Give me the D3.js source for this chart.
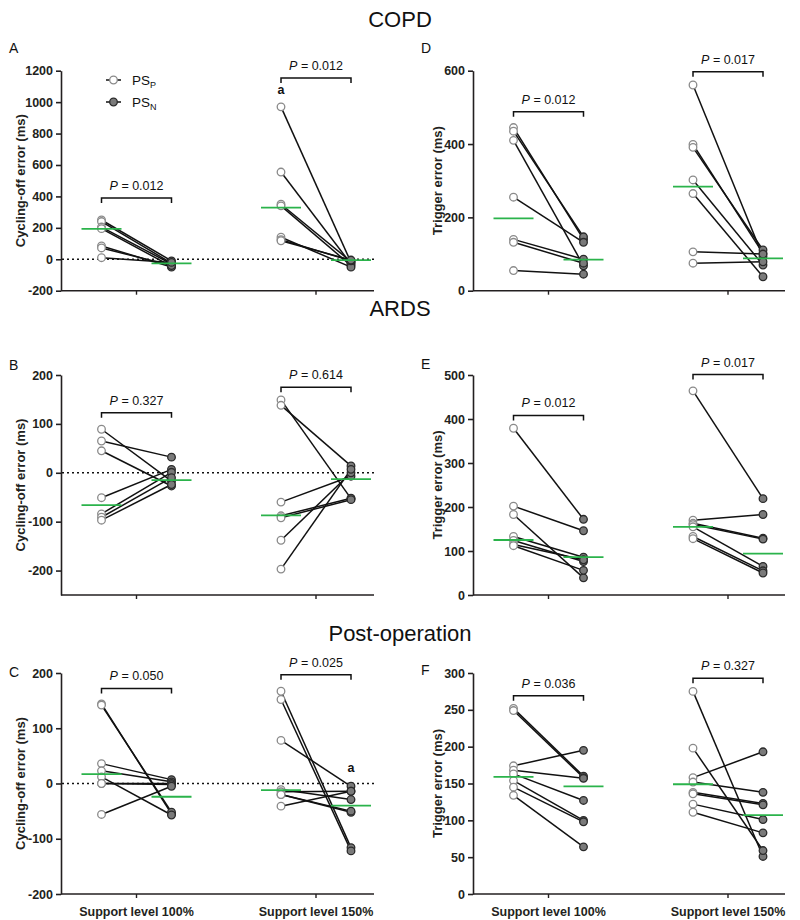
<!DOCTYPE html>
<html><head><meta charset="utf-8">
<script src="https://cdn.jsdelivr.net/npm/d3@7"></script>
<style>body{margin:0;background:#fff}</style>
</head><body>
<svg id="chart" width="800" height="920"></svg>
<script>
// ---------- data ----------
const groups = ["Support level 100%", "Support level 150%"];
const modes = ["PSP", "PSN"];
const sections = ["COPD", "ARDS", "Post-operation"];

// Panel A: COPD cycling-off error (ms)
const copdCyc100PSP = [250, 240, 205, 195, 85, 72, 10];
const copdCyc100PSN = [-10, -25, -30, -45, -50, -40, -20];
const copdCyc150PSP = [970, 555, 350, 340, 140, 125, 118];
const copdCyc150PSN = [-20, -30, -15, -40, -50, -10, -5];
const copdCycMedian = [[194, -26], [329, -5]];
// Panel D: COPD trigger error (ms)
const copdTrg100PSP = [445, 435, 410, 255, 140, 132, 55];
const copdTrg100PSN = [140, 147, 68, 132, 86, 75, 45];
const copdTrg150PSP = [561, 399, 391, 302, 265, 106, 75];
const copdTrg150PSN = [93, 102, 111, 70, 38, 100, 79];
const copdTrgMedian = [[197, 85], [284, 88]];
// Panel B: ARDS cycling-off error (ms)
const ardsCyc100PSP = [89, 65, 45, -51, -84, -91, -97];
const ardsCyc100PSN = [-17, 32, -27, 7, 1, -10, -24];
const ardsCyc150PSP = [149, 138, -60, -88, -92, -138, -197];
const ardsCyc150PSN = [-53, 14, -7, -52, -55, 0, 7];
const ardsCycMedian = [[-66, -15], [-87, -13]];
// Panel E: ARDS trigger error (ms)
const ardsTrg100PSP = [379, 202, 183, 133, 124, 115, 112];
const ardsTrg100PSN = [172, 146, 39, 86, 76, 80, 56];
const ardsTrg150PSP = [464, 170, 163, 160, 155, 133, 128];
const ardsTrg150PSN = [219, 183, 129, 127, 65, 55, 50];
const ardsTrgMedian = [[125, 86], [155, 94]];
// Panel C: Post-operation cycling-off error (ms)
const postCyc100PSP = [144, 142, 36, 23, 12, 0, 0, -56];
const postCyc100PSN = [-55, -52, 7, 3, -57, 0, -2, -5];
const postCyc150PSP = [167, 152, 78, -11, -15, -20, -20, -41];
const postCyc150PSN = [-116, -122, -5, -29, -14, -52, -50, -14];
const postCycMedian = [[17, -24], [-12, -40]];
// Panel F: Post-operation trigger error (ms)
const postTrg100PSP = [252, 249, 174, 168, 163, 154, 145, 134];
const postTrg100PSN = [160, 158, 195, 157, 127, 100, 98, 64];
const postTrg150PSP = [275, 198, 158, 152, 138, 136, 122, 111];
const postTrg150PSN = [51, 59, 193, 138, 123, 121, 101, 83];
const postTrgMedian = [[159, 146], [149, 107]];

// p values per panel (group 100%, group 150%)
const pValues = {
  A: ["0.012", "0.012"], D: ["0.012", "0.017"],
  B: ["0.327", "0.614"], E: ["0.012", "0.017"],
  C: ["0.050", "0.025"], F: ["0.036", "0.327"]
};

// tick labels
const cycTicksCOPD = [-200, 0, 200, 400, 600, 800, 1000, 1200];
const trgTicksCOPD = [0, 200, 400, 600];
const cycTicksARDS = [-200, -100, 0, 100, 200];
const trgTicksARDS = [0, 100, 200, 300, 400, 500];
const cycTicksPost = [-200, -100, 0, 100, 200];
const trgTicksPost = [0, 50, 100, 150, 200, 250, 300];

// ---------- layout ----------
const LEFT = {x0: 61, x1: 374, titleX: 20};
const RIGHT = {x0: 473, x1: 785, titleX: 437};
const ROWS = [{top: 70.7, bot: 290.7}, {top: 375, bot: 595}, {top: 673, bot: 894}];

const panels = [
  {id: "A", col: LEFT, row: 0, domain: [-200, 1200], ticks: cycTicksCOPD, title: "Cycling-off error (ms)",
   series: [[copdCyc100PSP, copdCyc100PSN], [copdCyc150PSP, copdCyc150PSN]], median: copdCycMedian,
   zero: true, bracket: [390, 1154], labelY: 53, legend: true, marks: [{g: 1, m: "PSP", v: 970, dy: -13}]},
  {id: "D", col: RIGHT, row: 0, domain: [0, 600], ticks: trgTicksCOPD, title: "Trigger error (ms)",
   series: [[copdTrg100PSP, copdTrg100PSN], [copdTrg150PSP, copdTrg150PSN]], median: copdTrgMedian,
   zero: false, bracket: [488, 597], labelY: 53},
  {id: "B", col: LEFT, row: 1, domain: [-250, 200], ticks: cycTicksARDS, title: "Cycling-off error (ms)",
   series: [[ardsCyc100PSP, ardsCyc100PSN], [ardsCyc150PSP, ardsCyc150PSN]], median: ardsCycMedian,
   zero: true, bracket: [123, 175], labelY: 370},
  {id: "E", col: RIGHT, row: 1, domain: [0, 500], ticks: trgTicksARDS, title: "Trigger error (ms)",
   series: [[ardsTrg100PSP, ardsTrg100PSN], [ardsTrg150PSP, ardsTrg150PSN]], median: ardsTrgMedian,
   zero: false, bracket: [408, 501], labelY: 369},
  {id: "C", col: LEFT, row: 2, domain: [-200, 200], ticks: cycTicksPost, title: "Cycling-off error (ms)",
   series: [[postCyc100PSP, postCyc100PSN], [postCyc150PSP, postCyc150PSN]], median: postCycMedian,
   zero: true, bracket: [172, 197], labelY: 677, xlabels: true, marks: [{g: 1, m: "PSN", v: -5, dy: -14}]},
  {id: "F", col: RIGHT, row: 2, domain: [0, 300], ticks: trgTicksPost, title: "Trigger error (ms)",
   series: [[postTrg100PSP, postTrg100PSN], [postTrg150PSP, postTrg150PSN]], median: postTrgMedian,
   zero: false, bracket: [269, 293], labelY: 675, xlabels: true}
];

const FONT = "'Liberation Sans', Arial, sans-serif";
const INK = "#231f20";
const GREEN = "#2bb34b";
const svg = d3.select("#chart").style("font-family", FONT);

// section titles
const titleY = [27, 316, 641];
sections.forEach((s, i) => {
  svg.append("text").attr("x", 400).attr("y", titleY[i]).attr("text-anchor", "middle")
    .attr("font-size", 22).attr("fill", "#111").text(s);
});

function drawPanel(p) {
  const c = p.col, r = ROWS[p.row];
  const g = svg.append("g");
  const y = d3.scaleLinear().domain(p.domain).range([r.bot, r.top]);
  const xg = d3.scalePoint().domain(groups).range([c.x0 + 75.5, c.x0 + 255]);
  const xm = d3.scalePoint().domain(modes).range([-35, 35]);
  const X = (gi, m) => xg(groups[gi]) + xm(m);

  // panel letter
  g.append("text").attr("x", c.x0 - 52).attr("y", p.labelY).attr("font-size", 14).attr("fill", "#111").text(p.id);

  // y axis
  const ya = g.append("g").attr("transform", `translate(${c.x0},0)`)
    .call(d3.axisLeft(y).tickValues(p.ticks).tickSize(5).tickSizeOuter(0).tickPadding(3).tickFormat(d => String(d)));
  ya.select(".domain").attr("stroke", INK).attr("stroke-width", 1.6);
  ya.selectAll(".tick line").attr("stroke", INK).attr("stroke-width", 1.6);
  ya.selectAll(".tick text").attr("font-family", FONT).attr("font-size", 12.5).attr("font-weight", "bold").attr("fill", INK);

  // y title
  g.append("text").attr("transform", `translate(${c.titleX},${(r.top + r.bot) / 2}) rotate(-90)`)
    .attr("text-anchor", "middle").attr("dominant-baseline", "central")
    .attr("font-size", 13).attr("font-weight", "bold").attr("fill", INK).text(p.title);

  // x axis
  g.append("line").attr("x1", c.x0).attr("x2", c.x1).attr("y1", r.bot).attr("y2", r.bot)
    .attr("stroke", INK).attr("stroke-width", 1.6);
  groups.forEach(gr => {
    g.append("line").attr("x1", xg(gr)).attr("x2", xg(gr)).attr("y1", r.bot).attr("y2", r.bot + 4)
      .attr("stroke", INK).attr("stroke-width", 1.4);
    if (p.xlabels) {
      g.append("text").attr("x", xg(gr)).attr("y", r.bot + 22).attr("text-anchor", "middle")
        .attr("font-size", 12.5).attr("font-weight", "bold").attr("fill", INK).text(gr);
    }
  });

  // zero dotted line
  if (p.zero) {
    g.append("line").attr("x1", c.x0 + 1).attr("x2", c.x1).attr("y1", y(0)).attr("y2", y(0))
      .attr("stroke", "#111").attr("stroke-width", 1.6).attr("stroke-dasharray", "2,3");
  }

  // paired lines
  p.series.forEach((pair, gi) => {
    const [a, b] = pair;
    a.forEach((v, i) => {
      g.append("line").attr("x1", X(gi, "PSP")).attr("y1", y(v)).attr("x2", X(gi, "PSN")).attr("y2", y(b[i]))
        .attr("stroke", "#111").attr("stroke-width", 1.5);
    });
  });
  // points
  p.series.forEach((pair, gi) => {
    pair[0].forEach(v => {
      g.append("circle").attr("cx", X(gi, "PSP")).attr("cy", y(v)).attr("r", 3.8)
        .attr("fill", "#fff").attr("stroke", "#8a8a8a").attr("stroke-width", 1.3);
    });
    pair[1].forEach(v => {
      g.append("circle").attr("cx", X(gi, "PSN")).attr("cy", y(v)).attr("r", 3.8)
        .attr("fill", "#7a7a7a").attr("stroke", "#2a2a2a").attr("stroke-width", 1.3);
    });
  });
  // medians
  p.median.forEach((md, gi) => {
    modes.forEach((m, mi) => {
      const cx = X(gi, m);
      g.append("line").attr("x1", cx - 20).attr("x2", cx + 20).attr("y1", y(md[mi])).attr("y2", y(md[mi]))
        .attr("stroke", GREEN).attr("stroke-width", 1.8);
    });
  });

  // p-value brackets
  p.bracket.forEach((bv, gi) => {
    const by = y(bv), xa = X(gi, "PSP"), xb = X(gi, "PSN");
    g.append("path").attr("d", `M${xa},${by + 5}V${by}H${xb}V${by + 5}`)
      .attr("fill", "none").attr("stroke", "#111").attr("stroke-width", 1.5);
    const t = g.append("text").attr("x", (xa + xb) / 2).attr("y", by - 8).attr("text-anchor", "middle")
      .attr("font-size", 12.5).attr("fill", "#111");
    t.append("tspan").attr("font-style", "italic").text("P");
    t.append("tspan").text(" = " + pValues[p.id][gi]);
  });

  // "a" marks
  (p.marks || []).forEach(mk => {
    const pv = p.series[mk.g][mk.m === "PSP" ? 0 : 1];
    g.append("text").attr("x", X(mk.g, mk.m)).attr("y", y(mk.v) + mk.dy).attr("text-anchor", "middle")
      .attr("font-size", 12.5).attr("font-weight", "bold").attr("fill", "#111").text("a");
  });

  // legend
  if (p.legend) {
    const items = [{m: "P", fill: "#fff", stroke: "#8a8a8a"}, {m: "N", fill: "#7a7a7a", stroke: "#2a2a2a"}];
    items.forEach((it, i) => {
      const ly = 80 + i * 22, lx = 106;
      g.append("line").attr("x1", lx).attr("x2", lx + 15).attr("y1", ly).attr("y2", ly)
        .attr("stroke", "#111").attr("stroke-width", 1.5);
      g.append("circle").attr("cx", lx + 7.5).attr("cy", ly).attr("r", 3.8)
        .attr("fill", it.fill).attr("stroke", it.stroke).attr("stroke-width", 1.3);
      const t = g.append("text").attr("x", lx + 26).attr("y", ly + 5).attr("font-size", 13.5).attr("fill", "#111");
      t.append("tspan").text("PS");
      t.append("tspan").attr("font-size", 9).attr("dy", 3).text(it.m);
    });
  }
}

panels.forEach(drawPanel);
</script>
</body></html>
